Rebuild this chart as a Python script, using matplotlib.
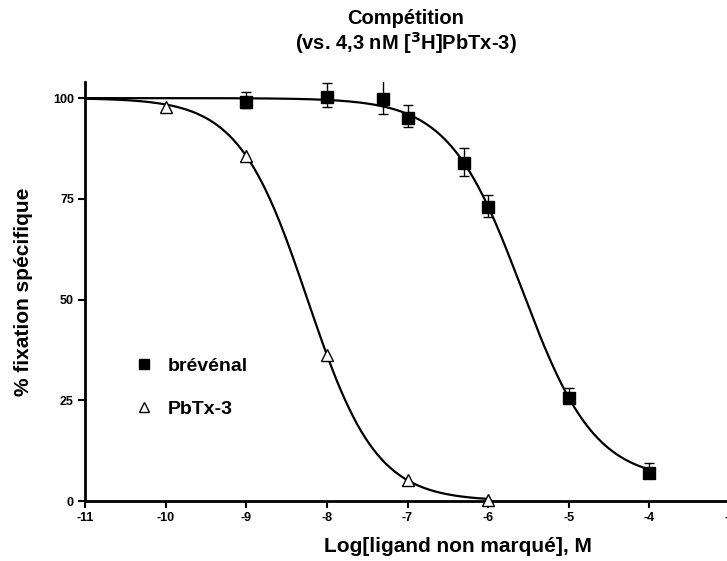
import numpy as np
import matplotlib.pyplot as plt

plt.rcParams['font.family'] = ['Liberation Sans', 'DejaVu Sans']
plt.rcParams['font.weight'] = 'bold'
plt.rcParams['axes.unicode_minus'] = False

# log concentrations and % specific binding
x_breve = [-9, -8, -7.3, -7, -6.3, -6, -5, -4]
y_breve = [99, 100.2, 99.8, 95.1, 83.9, 73, 25.6, 7.0]
err_lo = [1.5, 2.4, 3.8, 2.2, 3.3, 2.5, 1.0, 1.0]
err_hi = [2.5, 3.5, 4.7, 3.2, 3.8, 3.0, 2.5, 2.5]

x_pbtx = [-10, -9, -8, -7, -6]
y_pbtx = [97.8, 85.6, 36.2, 5.2, 0.2]

# fitted one-site competition curves (logIC50, hill, bottom)
fit_breve = (-5.58, 0.96, 5.0)
fit_pbtx = (-8.24, 1.02, 0.0)

def sigmoid(x, c, n, b):
    return b + (100 - b) / (1 + 10 ** ((x - c) * n))

fig = plt.figure(figsize=(7.27, 5.61), dpi=100)
ax = fig.add_axes([85/727, 60/561, 645/727, 419/561])

xs = np.linspace(-11, -4, 300)
ax.plot(xs, sigmoid(xs, *fit_breve), color='black', lw=1.6, zorder=2)
xs2 = np.linspace(-11, -6, 300)
ax.plot(xs2, sigmoid(xs2, *fit_pbtx), color='black', lw=1.6, zorder=2)

ax.errorbar(x_breve, y_breve, yerr=[err_lo, err_hi], fmt='none', ecolor='black',
            elinewidth=1, capsize=3.5, capthick=1, zorder=3)
ax.plot(x_breve, y_breve, 's', color='black', ms=8.5, zorder=4, label='brévénal')
ax.plot(x_pbtx, y_pbtx, '^', mfc='white', mec='black', mew=1, ms=8.5, zorder=4,
        clip_on=False, label='PbTx-3')

ax.set_xlim(-11, -3)
ax.set_ylim(0, 104)
ax.set_xticks(range(-11, -2))
ax.set_yticks([0, 25, 50, 75, 100])
ax.tick_params(labelsize=9, length=5, width=1.5, pad=3)
for s in ['top', 'right']:
    ax.spines[s].set_visible(False)
for s in ['left', 'bottom']:
    ax.spines[s].set_linewidth(2)

ax.set_ylabel('% fixation spécifique', fontsize=15, fontweight='bold', labelpad=14)
fig.text(458/727, 1 - 546/561, 'Log[ligand non marqué], M', ha='center', va='center',
         fontsize=15, fontweight='bold')
fig.text(406/727, 1 - 18/561, 'Compétition', ha='center', va='center',
         fontsize=14.5, fontweight='bold')
fig.text(406/727, 1 - 43/561, '(vs. 4,3 nM [$^3$H]PbTx-3)', ha='center', va='center',
         fontsize=14.5, fontweight='bold')

leg = ax.legend(loc='upper left', bbox_to_anchor=(0.05, 0.385), frameon=False,
                handletextpad=0.7, labelspacing=1.3, handlelength=1, markerscale=0.85,
                prop={'weight': 'bold', 'size': 14})

fig.savefig('out.png', dpi=100)
